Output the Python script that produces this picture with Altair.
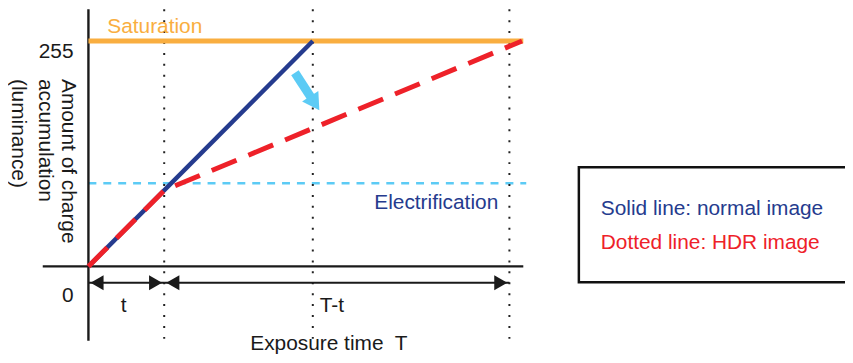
import altair as alt
import pandas as pd

# ---- values ----
t_val = 1.8          # time t (first dotted line)
t_sat = 5.33         # time at which the normal image saturates
T_val = 10.0         # exposure time T
sat_level = 255      # saturation level
elec_level = 94      # electrification level
normal_x = [0, 5.33]
normal_y = [0, 255]
hdr_x = [0, 1.8, 10.3]
hdr_y = [0, 86, 255]
y_tick_values = [255, 0]
y_tick_labels = ["255", "0"]
y_title_lines = ["Amount of charge", "accumulation", "(luminance)"]
legend_labels = ["Solid line: normal image", "Dotted line: HDR image"]

NAVY = "#253B8E"
RED = "#EE2129"
ORANGE = "#F9AE40"
LBLUE = "#5CCBF5"
FONT = "Liberation Sans"
FS = 21

W, H = 843, 347
xs = alt.Scale(domain=[-1.9104, 17.972], nice=False, zero=False)
ys = alt.Scale(domain=[-98.855, 290.95], nice=False, zero=False)


def X(f="x"):
    return alt.X(f"{f}:Q", scale=xs, axis=None)


def Y(f="y"):
    return alt.Y(f"{f}:Q", scale=ys, axis=None)


def hrule(rows, **kw):
    return alt.Chart(pd.DataFrame(rows)).mark_rule(**kw).encode(
        x=X(), x2="x2:Q", y=Y())


def vrule(rows, **kw):
    return alt.Chart(pd.DataFrame(rows)).mark_rule(**kw).encode(
        x=X(), y=Y(), y2="y2:Q")


def text(rows, **kw):
    base = dict(font=FONT, fontSize=FS)
    base.update(kw)
    return alt.Chart(pd.DataFrame(rows)).mark_text(**base).encode(
        x=X(), y=Y(), text="label:N")


y_top, y_bot = 290.95, -84.25
x_left, x_right = -1.085, 10.33
arrow_y = -18.4

layers = []

# legend box
layers.append(
    alt.Chart(pd.DataFrame([{"x": 11.65, "x2": 19.0, "y": 112.3, "y2": -18.0}]))
    .mark_rect(fill="white", stroke="#111111", strokeWidth=2.5)
    .encode(x=X(), x2="x2:Q", y=Y(), y2="y2:Q")
)

# electrification dashed line
layers.append(hrule([{"x": 0, "x2": 10.4, "y": elec_level}],
                    color=LBLUE, strokeWidth=2.5, strokeDash=[8, 7]))

# dotted verticals
layers.append(vrule([{"x": v, "y": y_top, "y2": y_bot} for v in [t_val, t_sat, T_val]],
                    color="#222222", strokeWidth=2, strokeDash=[2, 9]))

# axes
layers.append(vrule([{"x": 0, "y": y_top, "y2": y_bot}], color="#1a1a1a", strokeWidth=2.4))
layers.append(hrule([{"x": x_left, "x2": x_right, "y": 0}], color="#1a1a1a", strokeWidth=2.4))

# saturation line
layers.append(hrule([{"x": 0, "x2": x_right, "y": sat_level}], color=ORANGE, strokeWidth=5))

# normal image (solid)
layers.append(
    alt.Chart(pd.DataFrame({"x": normal_x, "y": normal_y, "o": range(len(normal_x))}))
    .mark_line(color=NAVY, strokeWidth=4.5)
    .encode(x=X(), y=Y(), order="o:Q")
)

# HDR image (dashed)
layers.append(
    alt.Chart(pd.DataFrame({"x": hdr_x, "y": hdr_y, "o": range(len(hdr_x))}))
    .mark_line(color=RED, strokeWidth=5, strokeDash=[27, 13], strokeCap="butt")
    .encode(x=X(), y=Y(), order="o:Q")
)

# time span arrows
layers.append(hrule([{"x": 0, "x2": t_val, "y": arrow_y},
                     {"x": t_val, "x2": T_val, "y": arrow_y}],
                    color="#1a1a1a", strokeWidth=2))
layers.append(
    alt.Chart(pd.DataFrame({"x": [0, t_val], "y": [arrow_y] * 2}))
    .mark_point(shape="triangle-left", size=230, filled=True, color="#1a1a1a",
                opacity=1, xOffset=8.7)
    .encode(x=X(), y=Y())
)
layers.append(
    alt.Chart(pd.DataFrame({"x": [t_val, T_val], "y": [arrow_y] * 2}))
    .mark_point(shape="triangle-right", size=230, filled=True, color="#1a1a1a",
                opacity=1, xOffset=-8.7)
    .encode(x=X(), y=Y())
)

# light blue arrow (normal -> HDR)
layers.append(
    alt.Chart(pd.DataFrame([{"x": 4.906, "y": 219.05, "x2": 5.31, "y2": 189.5}]))
    .mark_rule(color=LBLUE, strokeWidth=9)
    .encode(x=X(), y=Y(), x2="x2:Q", y2="y2:Q")
)
layers.append(
    alt.Chart(pd.DataFrame([{"x": 5.377, "y": 184.5}]))
    .mark_point(shape="triangle-up", size=380, filled=True, color=LBLUE,
                opacity=1, angle=147)
    .encode(x=X(), y=Y())
)

# texts
layers.append(text([{"x": 0.448, "y": 264, "label": "Saturation"}],
                   align="left", baseline="alphabetic", color=ORANGE))
layers.append(text([{"x": 6.79, "y": 65.2, "label": "Electrification"}],
                   align="left", baseline="alphabetic", color=NAVY))
layers.append(text([{"x": -0.354, "y": yy, "label": lab}
                    for yy, lab in zip([236, -40.4], y_tick_labels)],
                   align="right", baseline="alphabetic", color="#1a1a1a"))
layers.append(text([{"x": xx, "y": 212, "label": lab}
                    for xx, lab in zip([-0.495, -1.025, -1.68], y_title_lines)],
                   align="left", baseline="middle", angle=90, color="#1a1a1a"))
layers.append(text([{"x": 0.837, "y": -51.7, "label": "t"}],
                   align="center", baseline="alphabetic", color="#1a1a1a"))
layers.append(text([{"x": 5.495, "y": -51.7, "label": "T-t"}],
                   align="left", baseline="alphabetic", color="#1a1a1a"))
layers.append(text([{"x": 3.844, "y": -94.4, "label": "Exposure time\u00a0 T"}],
                   align="left", baseline="alphabetic", color="#1a1a1a"))
layers.append(text([{"x": 12.17, "y": 58.4, "label": legend_labels[0]}],
                   align="left", baseline="alphabetic", color=NAVY))
layers.append(text([{"x": 12.17, "y": 20.2, "label": legend_labels[1]}],
                   align="left", baseline="alphabetic", color=RED))

chart = (
    alt.layer(*layers)
    .properties(width=W, height=H, padding=0, autosize=alt.AutoSizeParams(type="none"))
    .configure_view(stroke=None)
)

chart.save("out.html", embed_options={"renderer": "svg", "actions": False})
